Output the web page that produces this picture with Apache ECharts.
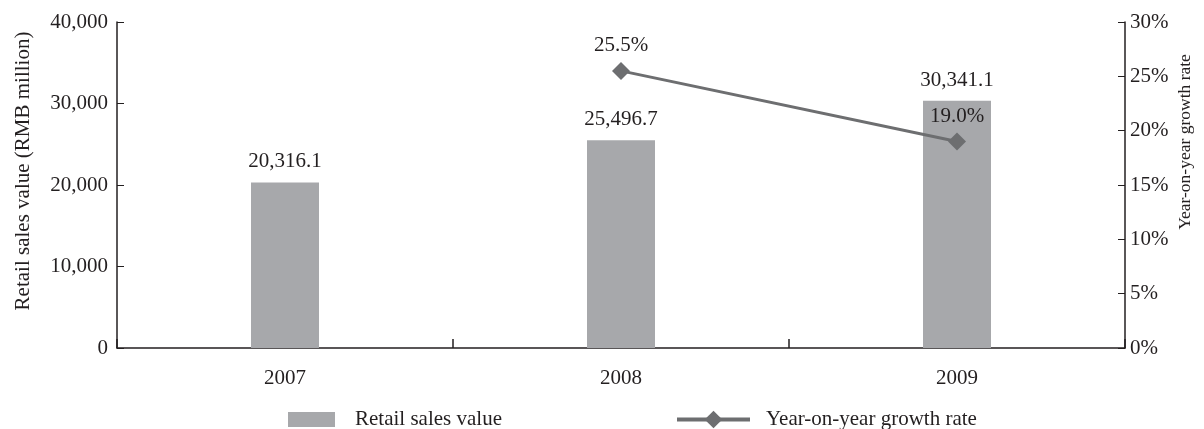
<!DOCTYPE html>
<html>
<head>
<meta charset="utf-8">
<script src="https://cdn.jsdelivr.net/npm/echarts@6/dist/echarts.min.js"></script>
<style>
  html, body { margin: 0; padding: 0; background: #fff; }
  #chart { width: 1204px; height: 429px; }
</style>
</head>
<body>
<div id="chart"></div>
<script>
// Retail sales value and its year-on-year growth, 2007-2009
const years = ['2007', '2008', '2009'];
const retailSales = [20316.1, 25496.7, 30341.1];     // RMB million
const growthRate = [null, 25.5, 19.0];              // percent
const leftTicks = { min: 0, max: 40000, interval: 10000 };
const rightTicks = { min: 0, max: 30, interval: 5 };

const FONT = '"Liberation Serif", "DejaVu Serif", serif';
const FS = 21;
const AXIS_COLOR = '#231f20';
const TEXT_COLOR = '#231f20';
const BAR_COLOR = '#a7a8ab';
const LINE_COLOR = '#6d6e70';

const fmtThousands = v => v.toLocaleString('en-US');
const fmtOneDecimal = v => v.toLocaleString('en-US', { minimumFractionDigits: 1, maximumFractionDigits: 1 });

const chart = echarts.init(document.getElementById('chart'), null, { renderer: 'canvas' });

chart.setOption({
  animation: false,
  backgroundColor: '#ffffff',
  textStyle: { fontFamily: FONT, color: TEXT_COLOR },
  grid: { left: 117, right: 79, top: 22, bottom: 81, containLabel: false },
  legend: [
    {
      data: [{ name: 'Retail sales value', icon: 'rect' }],
      left: 283, top: 404,
      itemWidth: 47, itemHeight: 15,
      textStyle: { fontFamily: FONT, fontSize: FS, color: TEXT_COLOR, padding: [0, 0, 0, 15] }
    },
    {
      data: ['Year-on-year growth rate'],
      left: 670, top: 404,
      itemWidth: 73, itemHeight: 22,
      lineStyle: { width: 4 },
      textStyle: { fontFamily: FONT, fontSize: FS, color: TEXT_COLOR, padding: [0, 0, 0, 11] }
    }
  ],
  xAxis: {
    type: 'category',
    data: years,
    axisLine: { show: true, lineStyle: { color: AXIS_COLOR, width: 1.5 } },
    axisTick: { show: true, interval: 0, inside: true, length: 9, lineStyle: { color: AXIS_COLOR, width: 1.5 } },
    axisLabel: { fontFamily: FONT, fontSize: FS, color: TEXT_COLOR, margin: 20 },
    splitLine: { show: false }
  },
  yAxis: [
    {
      type: 'value',
      min: leftTicks.min, max: leftTicks.max, interval: leftTicks.interval,
      axisLine: { show: true, lineStyle: { color: AXIS_COLOR, width: 1.5 } },
      axisTick: { show: true, inside: true, length: 7, lineStyle: { color: AXIS_COLOR } },
      axisLabel: { fontFamily: FONT, fontSize: FS, color: TEXT_COLOR, margin: 9, formatter: v => fmtThousands(v) },
      splitLine: { show: false }
    },
    {
      type: 'value',
      min: rightTicks.min, max: rightTicks.max, interval: rightTicks.interval,
      position: 'right',
      axisLine: { show: true, lineStyle: { color: AXIS_COLOR, width: 1.5 } },
      axisTick: { show: true, inside: true, length: 7, lineStyle: { color: AXIS_COLOR } },
      axisLabel: { fontFamily: FONT, fontSize: FS, color: TEXT_COLOR, margin: 5, formatter: '{value}%' },
      splitLine: { show: false }
    }
  ],
  graphic: [
    {
      type: 'text', x: 23, y: 171, rotation: Math.PI / 2,
      style: {
        text: 'Retail sales value (RMB million)', fontFamily: FONT, fontSize: FS,
        fill: TEXT_COLOR, align: 'center', verticalAlign: 'middle'
      }
    },
    {
      type: 'text', x: 1185, y: 142, rotation: Math.PI / 2,
      style: {
        text: 'Year-on-year growth rate', fontFamily: FONT, fontSize: 17.5,
        fill: TEXT_COLOR, align: 'center', verticalAlign: 'middle'
      }
    }
  ],
  series: [
    {
      name: 'Retail sales value',
      type: 'bar',
      yAxisIndex: 0,
      data: retailSales,
      barWidth: 68,
      itemStyle: { color: BAR_COLOR },
      label: {
        show: true, position: 'top', distance: 10,
        fontFamily: FONT, fontSize: FS, color: TEXT_COLOR,
        formatter: p => fmtOneDecimal(p.value)
      }
    },
    {
      name: 'Year-on-year growth rate',
      type: 'line',
      yAxisIndex: 1,
      data: growthRate,
      symbol: 'diamond',
      symbolSize: 18,
      lineStyle: { color: LINE_COLOR, width: 3 },
      itemStyle: { color: LINE_COLOR },
      label: {
        show: true, position: 'top', distance: 6,
        fontFamily: FONT, fontSize: FS, color: TEXT_COLOR,
        formatter: p => p.value.toFixed(1) + '%'
      }
    }
  ]
});
</script>
</body>
</html>
